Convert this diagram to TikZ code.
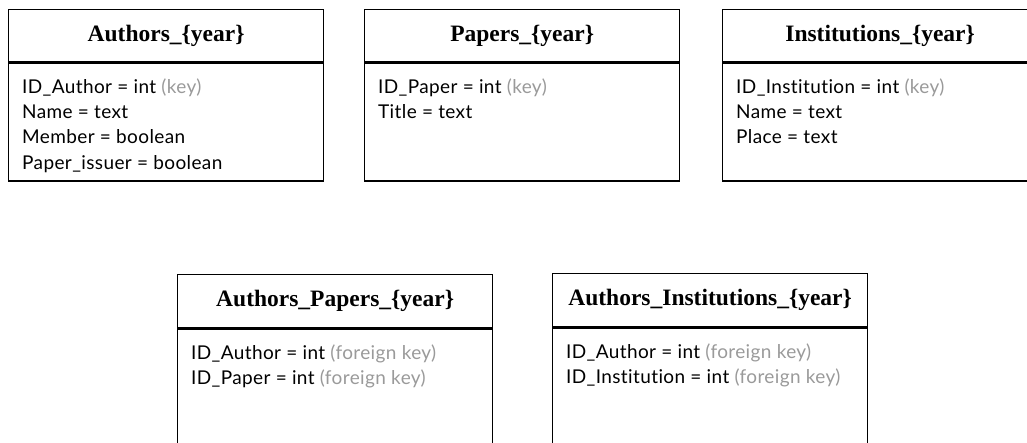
\documentclass[tikz,border=0pt]{standalone}
\usepackage{fontspec}
\setmainfont{Liberation Serif}
\newfontfamily\fieldfont[Ligatures=NoCommon,LetterSpace=2]{Lato}
\usetikzlibrary{calc}
\definecolor{keygray}{HTML}{9A9A9A}
\tikzset{
  frame/.style={draw=black, line width=1.3pt, rectangle, inner sep=0pt, anchor=north west},
  hdr/.style={frame, minimum width=315pt, minimum height=52pt,
    font=\fontsize{23.5}{26}\selectfont\bfseries},
  bodybox/.style={frame, minimum width=315pt},
  fields/.style={anchor=north west, inner sep=0pt, align=left,
    font=\fieldfont\fontsize{19}{25.3}\selectfont},
}
\newcommand{\keynote}[1]{{\color{keygray}#1}}
\begin{document}
\begin{tikzpicture}[x=1pt,y=-1pt]
  \useasboundingbox (0,0) rectangle (1027,442);
  \clip (0,0) rectangle (1027,442);

  % Authors table
  \node[hdr] (auth-h) at (8,9) {Authors\_\{year\}};
  \node[bodybox, minimum height=118pt] (auth-b) at (auth-h.south west) {};
  \node[fields] (auth-f) at ($(auth-b.north west)+(14,16)$)
    {ID\_Author = int \keynote{(key)}\\ Name = text\\ Member = boolean\\ Paper\_issuer = boolean};

  % Papers table
  \node[hdr] (pap-h) at (364,9) {Papers\_\{year\}};
  \node[bodybox, minimum height=118pt] (pap-b) at (pap-h.south west) {};
  \node[fields] (pap-f) at ($(pap-b.north west)+(14,16)$)
    {ID\_Paper = int \keynote{(key)}\\ Title = text};

  % Institutions table
  \node[hdr] (inst-h) at (722,9) {Institutions\_\{year\}};
  \node[bodybox, minimum height=118pt] (inst-b) at (inst-h.south west) {};
  \node[fields] (inst-f) at ($(inst-b.north west)+(14,16)$)
    {ID\_Institution = int \keynote{(key)}\\ Name = text\\ Place = text};

  % Authors_Papers link table
  \node[hdr, minimum height=53pt] (ap-h) at (177,274) {Authors\_Papers\_\{year\}};
  \node[bodybox, minimum height=140pt] (ap-b) at (ap-h.south west) {};
  \node[fields] (ap-f) at ($(ap-b.north west)+(14,16)$)
    {ID\_Author = int \keynote{(foreign key)}\\ ID\_Paper = int \keynote{(foreign key)}};

  % Authors_Institutions link table
  \node[hdr, minimum height=53pt] (ai-h) at (552,273) {Authors\_Institutions\_\{year\}};
  \node[bodybox, minimum height=140pt] (ai-b) at (ai-h.south west) {};
  \node[fields] (ai-f) at ($(ai-b.north west)+(14,16)$)
    {ID\_Author = int \keynote{(foreign key)}\\ ID\_Institution = int \keynote{(foreign key)}};
\end{tikzpicture}
\end{document}
